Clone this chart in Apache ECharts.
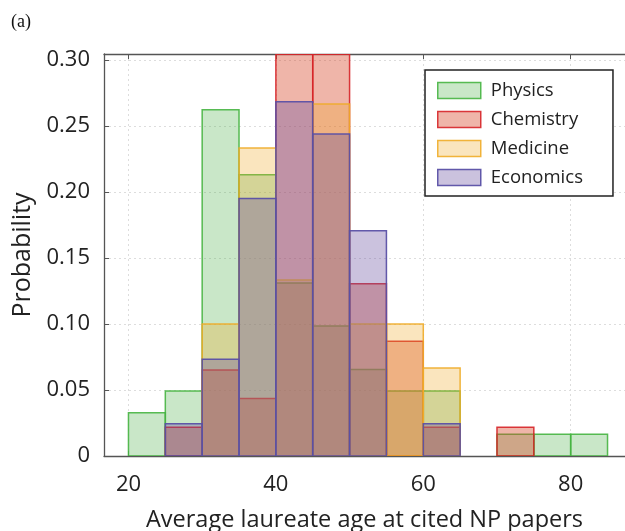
<!DOCTYPE html>
<html>
<head>
<meta charset="utf-8">
<script src="https://cdn.jsdelivr.net/npm/echarts@6/dist/echarts.min.js"></script>
<style>html,body{margin:0;padding:0;background:#fff}#c{width:625px;height:531px}</style>
</head>
<body>
<div id="c"></div>
<script>
const binStarts = [20, 25, 30, 35, 40, 45, 50, 55, 60, 65, 70, 75, 80];
const binWidth = 5;
const physics   = [0.0328, 0.0492, 0.2623, 0.2131, 0.1311, 0.0984, 0.0656, 0.0492, 0.0492, 0, 0.0164, 0.0164, 0.0164];
const chemistry = [0, 0.0217, 0.0652, 0.0435, 0.3043, 0.3043, 0.1304, 0.0870, 0.0217, 0, 0.0217, 0, 0];
const medicine  = [0, 0, 0.1000, 0.2333, 0.1333, 0.2667, 0.1000, 0.1000, 0.0667, 0, 0, 0, 0];
const economics = [0, 0.0244, 0.0732, 0.1951, 0.2683, 0.2439, 0.1707, 0, 0.0244, 0, 0, 0, 0];
const seriesNames = ['Physics', 'Chemistry', 'Medicine', 'Economics'];
const xTicks = [20, 40, 60, 80];
const yTicks = [0, 0.05, 0.10, 0.15, 0.20, 0.25, 0.30];

const styles = [
  {fill: 'rgba(77,175,74,0.30)',  stroke: 'rgba(70,180,65,0.9)'},
  {fill: 'rgba(215,70,40,0.40)',  stroke: 'rgba(214,35,40,0.9)'},
  {fill: 'rgba(240,170,40,0.30)', stroke: 'rgba(240,172,40,0.9)'},
  {fill: 'rgba(106,80,160,0.35)', stroke: 'rgba(90,80,165,0.95)'}
];
const allData = [physics, chemistry, medicine, economics];

function makeSeries(idx) {
  const vals = allData[idx];
  const data = [];
  binStarts.forEach((b, i) => { if (vals[i] > 0) data.push([b, b + binWidth, vals[i]]); });
  const st = styles[idx];
  return {
    name: seriesNames[idx],
    type: 'custom',
    clip: true,
    itemStyle: {color: st.fill, borderColor: st.stroke, borderWidth: 1.5},
    renderItem: function (params, api) {
      const p0 = api.coord([api.value(0), api.value(2)]);
      const p1 = api.coord([api.value(1), 0]);
      const rect = {x: p0[0], y: p0[1], width: p1[0] - p0[0], height: p1[1] - p0[1]};
      return {
        type: 'rect',
        shape: rect,
        style: {fill: st.fill, stroke: st.stroke, lineWidth: 1.5}
      };
    },
    encode: {x: [0, 1], y: 2},
    data: data
  };
}

const axisColor = '#555';
const font = '"Open Sans", "Noto Sans", sans-serif';
const chart = echarts.init(document.getElementById('c'), null, {renderer: 'canvas'});
chart.setOption({
  animation: false,
  backgroundColor: '#fff',
  title: {text: '(a)', left: 6, top: 8, textStyle: {fontFamily: '"Liberation Serif", serif', fontSize: 18, fontWeight: 'normal', color: '#111'}},
  grid: {left: 104, top: 54, right: 0, bottom: 75, containLabel: false, outerBoundsMode: 'none'},
  legend: {
    orient: 'vertical',
    left: 425, top: 70,
    padding: [11, 30, 9, 12],
    itemWidth: 43, itemHeight: 16, itemGap: 10,
    backgroundColor: '#fff',
    borderColor: '#222', borderWidth: 1.5,
    textStyle: {fontFamily: font, fontSize: 18.5, color: '#222', padding: [0, 0, 0, 5]},
    data: seriesNames.map((n, i) => ({name: n, icon: 'rect', itemStyle: {color: styles[i].fill, borderColor: styles[i].stroke, borderWidth: 1.5}}))
  },
  xAxis: [{
    type: 'value', min: 16.68, max: 87.37,
    name: 'Average laureate age at cited NP papers',
    nameLocation: 'middle', nameGap: 52,
    nameTextStyle: {fontFamily: font, fontSize: 23.5, color: '#222'},
    axisLine: {show: true, lineStyle: {color: axisColor, width: 1.3}},
    axisTick: {show: true, inside: true, length: 5, lineStyle: {color: axisColor}, customValues: xTicks},
    axisLabel: {customValues: xTicks, fontFamily: font, fontSize: 22, color: '#222', margin: 18},
    splitLine: {show: true, lineStyle: {color: '#ddd', type: [2, 3], width: 1}}
  }, {
    type: 'value', position: 'top', min: 16.68, max: 87.37,
    axisLine: {show: true, onZero: false, lineStyle: {color: axisColor, width: 1.3}},
    axisTick: {show: true, inside: true, length: 5, lineStyle: {color: axisColor}, customValues: xTicks},
    axisLabel: {show: false},
    splitLine: {show: false}
  }],
  yAxis: [{
    type: 'value', min: 0, max: 0.3045,
    name: 'Probability',
    nameLocation: 'middle', nameGap: 69,
    nameTextStyle: {fontFamily: font, fontSize: 25, color: '#222'},
    axisLine: {show: true, lineStyle: {color: axisColor, width: 1.3}},
    axisTick: {show: true, inside: true, length: 5, lineStyle: {color: axisColor}, customValues: yTicks},
    axisLabel: {customValues: yTicks, fontFamily: font, fontSize: 22, color: '#222', margin: 14,
      formatter: v => v === 0 ? '0' : v.toFixed(2)},
    splitLine: {show: true, lineStyle: {color: '#ddd', type: [2, 3], width: 1}}
  }],
  series: [0, 1, 2, 3].map(makeSeries)
});
</script>
</body>
</html>
